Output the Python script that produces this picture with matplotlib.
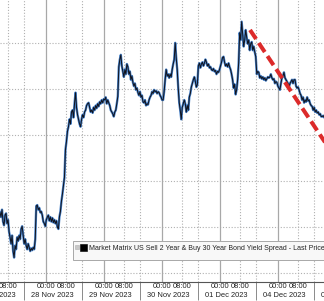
import numpy as np
import matplotlib.pyplot as plt
from matplotlib.patches import Rectangle

plt.rcParams['font.family'] = ['Liberation Sans', 'DejaVu Sans']

# 2s30s spread (bp), one 25-minute bar each, starting 27 Nov 2023 session
spread_bp = [
    -48.4, -48.9, -48.1, -49.4, -49.8, -48.7, -48.5, -49.6, -49.2, -50.5,
    -51.1, -51.8, -50.9, -52.6, -53.3, -52.0, -52.4, -51.1, -51.5, -50.9,
    -51.3, -50.2, -49.9, -50.9, -51.8, -51.3, -52.0, -52.4, -51.8, -52.2,
    -52.6, -52.3, -52.5, -52.2, -52.4, -51.3, -47.7, -47.6, -48.1, -47.9,
    -48.4, -48.3, -48.7, -49.4, -49.6, -49.9, -49.2, -48.9, -48.7, -49.3,
    -48.9, -49.4, -49.0, -49.5, -49.2, -49.6, -49.3, -50.0, -50.2, -48.9,
    -48.3, -47.2, -46.4, -45.5, -44.6, -41.6, -40.7, -39.6, -39.1, -38.3,
    -38.8, -37.5, -37.3, -38.1, -36.6, -35.4, -37.0, -37.8, -38.3, -38.8,
    -39.1, -38.3, -37.8, -38.1, -37.5, -37.3, -36.8, -36.6, -36.5, -37.0,
    -37.5, -37.3, -37.6, -37.0, -37.3, -36.8, -37.1, -36.6, -36.9, -36.4,
    -36.6, -36.2, -36.5, -36.1, -36.2, -35.9, -36.6, -36.2, -36.5, -36.8,
    -37.3, -37.5, -37.7, -38.0, -37.5, -37.3, -36.6, -35.8, -32.6, -31.8,
    -31.3, -32.5, -33.1, -33.7, -32.9, -33.4, -32.3, -32.6, -33.4, -33.1,
    -34.0, -33.6, -34.3, -34.7, -34.4, -35.1, -34.9, -35.4, -35.7, -35.3,
    -35.9, -35.7, -36.4, -36.5, -36.2, -36.8, -36.6, -36.7, -36.2, -35.9,
    -35.7, -35.3, -35.5, -35.1, -35.3, -35.2, -35.5, -35.3, -35.4, -35.7,
    -35.9, -36.2, -36.2, -35.3, -34.0, -32.9, -33.6, -33.4, -33.8, -33.4,
    -33.7, -32.9, -32.3, -31.8, -30.0, -31.6, -32.9, -34.9, -36.5, -37.3,
    -38.3, -37.0, -36.6, -36.2, -36.6, -37.5, -36.8, -37.3, -35.9, -35.5,
    -34.8, -34.4, -34.0, -33.7, -34.2, -34.8, -34.5, -32.5, -32.2, -32.7,
    -32.3, -32.1, -32.5, -32.2, -31.8, -32.1, -32.5, -32.3, -32.7, -32.6,
    -32.9, -33.0, -32.8, -33.1, -33.0, -33.4, -33.1, -33.2, -32.9, -32.5,
    -32.1, -31.6, -31.5, -32.1, -32.5, -32.3, -32.6, -32.2, -32.6, -32.9,
    -33.4, -34.0, -34.9, -34.5, -35.6, -35.1, -34.0, -32.2, -28.9, -29.7,
    -27.7, -29.1, -30.4, -29.7, -28.6, -29.4, -30.1, -29.7, -30.8, -30.1,
    -29.9, -30.8, -30.4, -31.0, -31.5, -33.4, -33.1, -33.2, -33.8, -33.6,
    -33.9, -33.7, -34.0, -33.8, -34.1, -33.9, -33.7, -33.8, -33.7, -33.4,
    -33.8, -34.0, -33.9, -34.4, -34.2, -34.3, -34.7, -34.9, -35.1, -34.4,
    -33.8, -33.6, -33.2, -33.8, -34.0, -34.2, -34.4, -34.8, -34.4, -34.2,
    -34.0, -34.4, -34.0, -34.0, -34.7, -34.9, -34.8, -35.1, -35.5, -35.7,
    -36.2, -35.9, -36.5, -36.2, -36.4, -35.9, -36.3, -36.2, -36.6, -36.8,
    -36.9, -37.3, -37.0, -37.5, -37.3, -37.6, -37.5, -37.8, -37.7, -38.0,
    -38.0, -37.9, -38.1, -38.0, -38.1,
]
BAR_MINUTES = 25
first_bar = -0.414          # position of first bar, in trading days from 28 Nov session start

days = ['27 Nov 2023', '28 Nov 2023', '29 Nov 2023', '30 Nov 2023',
        '01 Dec 2023', '04 Dec 2023', '05 Dec 2023']
day_pos = list(range(-1, len(days) - 1))
time_labels = ['00:00', '08:00']
time_offsets = [9 / 24, 17.5 / 24]   # hours after session open

# hand-drawn trend line (trading-day position, bp)
trend_t = [3.897, 5.276]
trend_bp = [-28.6, -41.6]

grid_levels = [-30, -35, -40, -45, -50, -55]
legend_label = 'Market Matrix US Sell 2 Year & Buy 30 Year Bond Yield Spread - Last Price'

t = first_bar + np.arange(len(spread_bp)) * BAR_MINUTES / 1440

fig = plt.figure(figsize=(3.24, 3.01), dpi=100)
ax = fig.add_axes([0, 19 / 301, 1, 282 / 301])

dotted = dict(color='#b0b0b0', lw=0.8, ls=(0, (1, 1.6)), zorder=1)
for lvl in grid_levels:
    ax.axhline(lvl, **dotted)
for d in day_pos:
    ax.axvline(d, **dotted)
    ax.axvline(d + time_offsets[0], color='#a8a8a8', lw=0.9, zorder=1)
    ax.axvline(d + time_offsets[1], **dotted)

ax.plot(t, spread_bp, color='#4580c8', lw=1.7, zorder=3)
ax.plot(t, spread_bp, color='#10121c', lw=0.7, zorder=4)
ax.plot(trend_t, trend_bp, color='#dc2a2a', lw=2.9, ls=(0, (2.7, 1.2)), zorder=5)

ax.set_yticks([])

for s in ['top', 'left', 'right']:
    ax.spines[s].set_visible(False)
ax.spines['bottom'].set_color('#555555')
ax.spines['bottom'].set_linewidth(0.8)

ax.set_xticks(day_pos)
ax.set_xticklabels([])
ax.tick_params(axis='x', which='major', length=13, width=0.6, color='#777777', direction='out')
minor_pos = [d + o for d in day_pos for o in time_offsets]
ax.set_xticks(minor_pos, minor=True)
ax.set_xticklabels(time_labels * len(day_pos), minor=True)
ax.tick_params(axis='x', which='minor', length=0, pad=1, labelsize=5.4, labelcolor='#222222')

# limits after the ticks, so set_xticks does not widen the view
ax.set_xlim(first_bar, first_bar + 324 / 58)
ax.set_ylim(-55.95, -25.35)

for d, lab in zip(day_pos, days):
    ax.annotate(lab, xy=(d + 0.48, 0), xycoords=('data', 'axes fraction'),
                xytext=(0, -7.2), textcoords='offset points',
                ha='center', va='top', fontsize=5.4, color='#222222',
                annotation_clip=False)

# legend box
ax.add_patch(Rectangle((73 / 324, 22 / 282), 0.9, 19 / 282, transform=ax.transAxes,
                       facecolor='#f8f8f8', edgecolor='#a8a8a8', lw=0.7, zorder=6))
ax.add_patch(Rectangle((75 / 324, 33 / 282), 4 / 324, 4 / 282, transform=ax.transAxes,
                       facecolor='#c8c8c8', edgecolor='#b0b0b0', lw=0.4, zorder=7))
ax.add_patch(Rectangle((80 / 324, 31 / 282), 7 / 324, 7 / 282, transform=ax.transAxes,
                       facecolor='black', edgecolor='black', lw=0.4, zorder=7))
ax.text(89 / 324, 33.5 / 282, legend_label, transform=ax.transAxes,
        ha='left', va='center', fontsize=5.0, color='#222222', zorder=7)

plt.savefig('out.png', dpi=100)
